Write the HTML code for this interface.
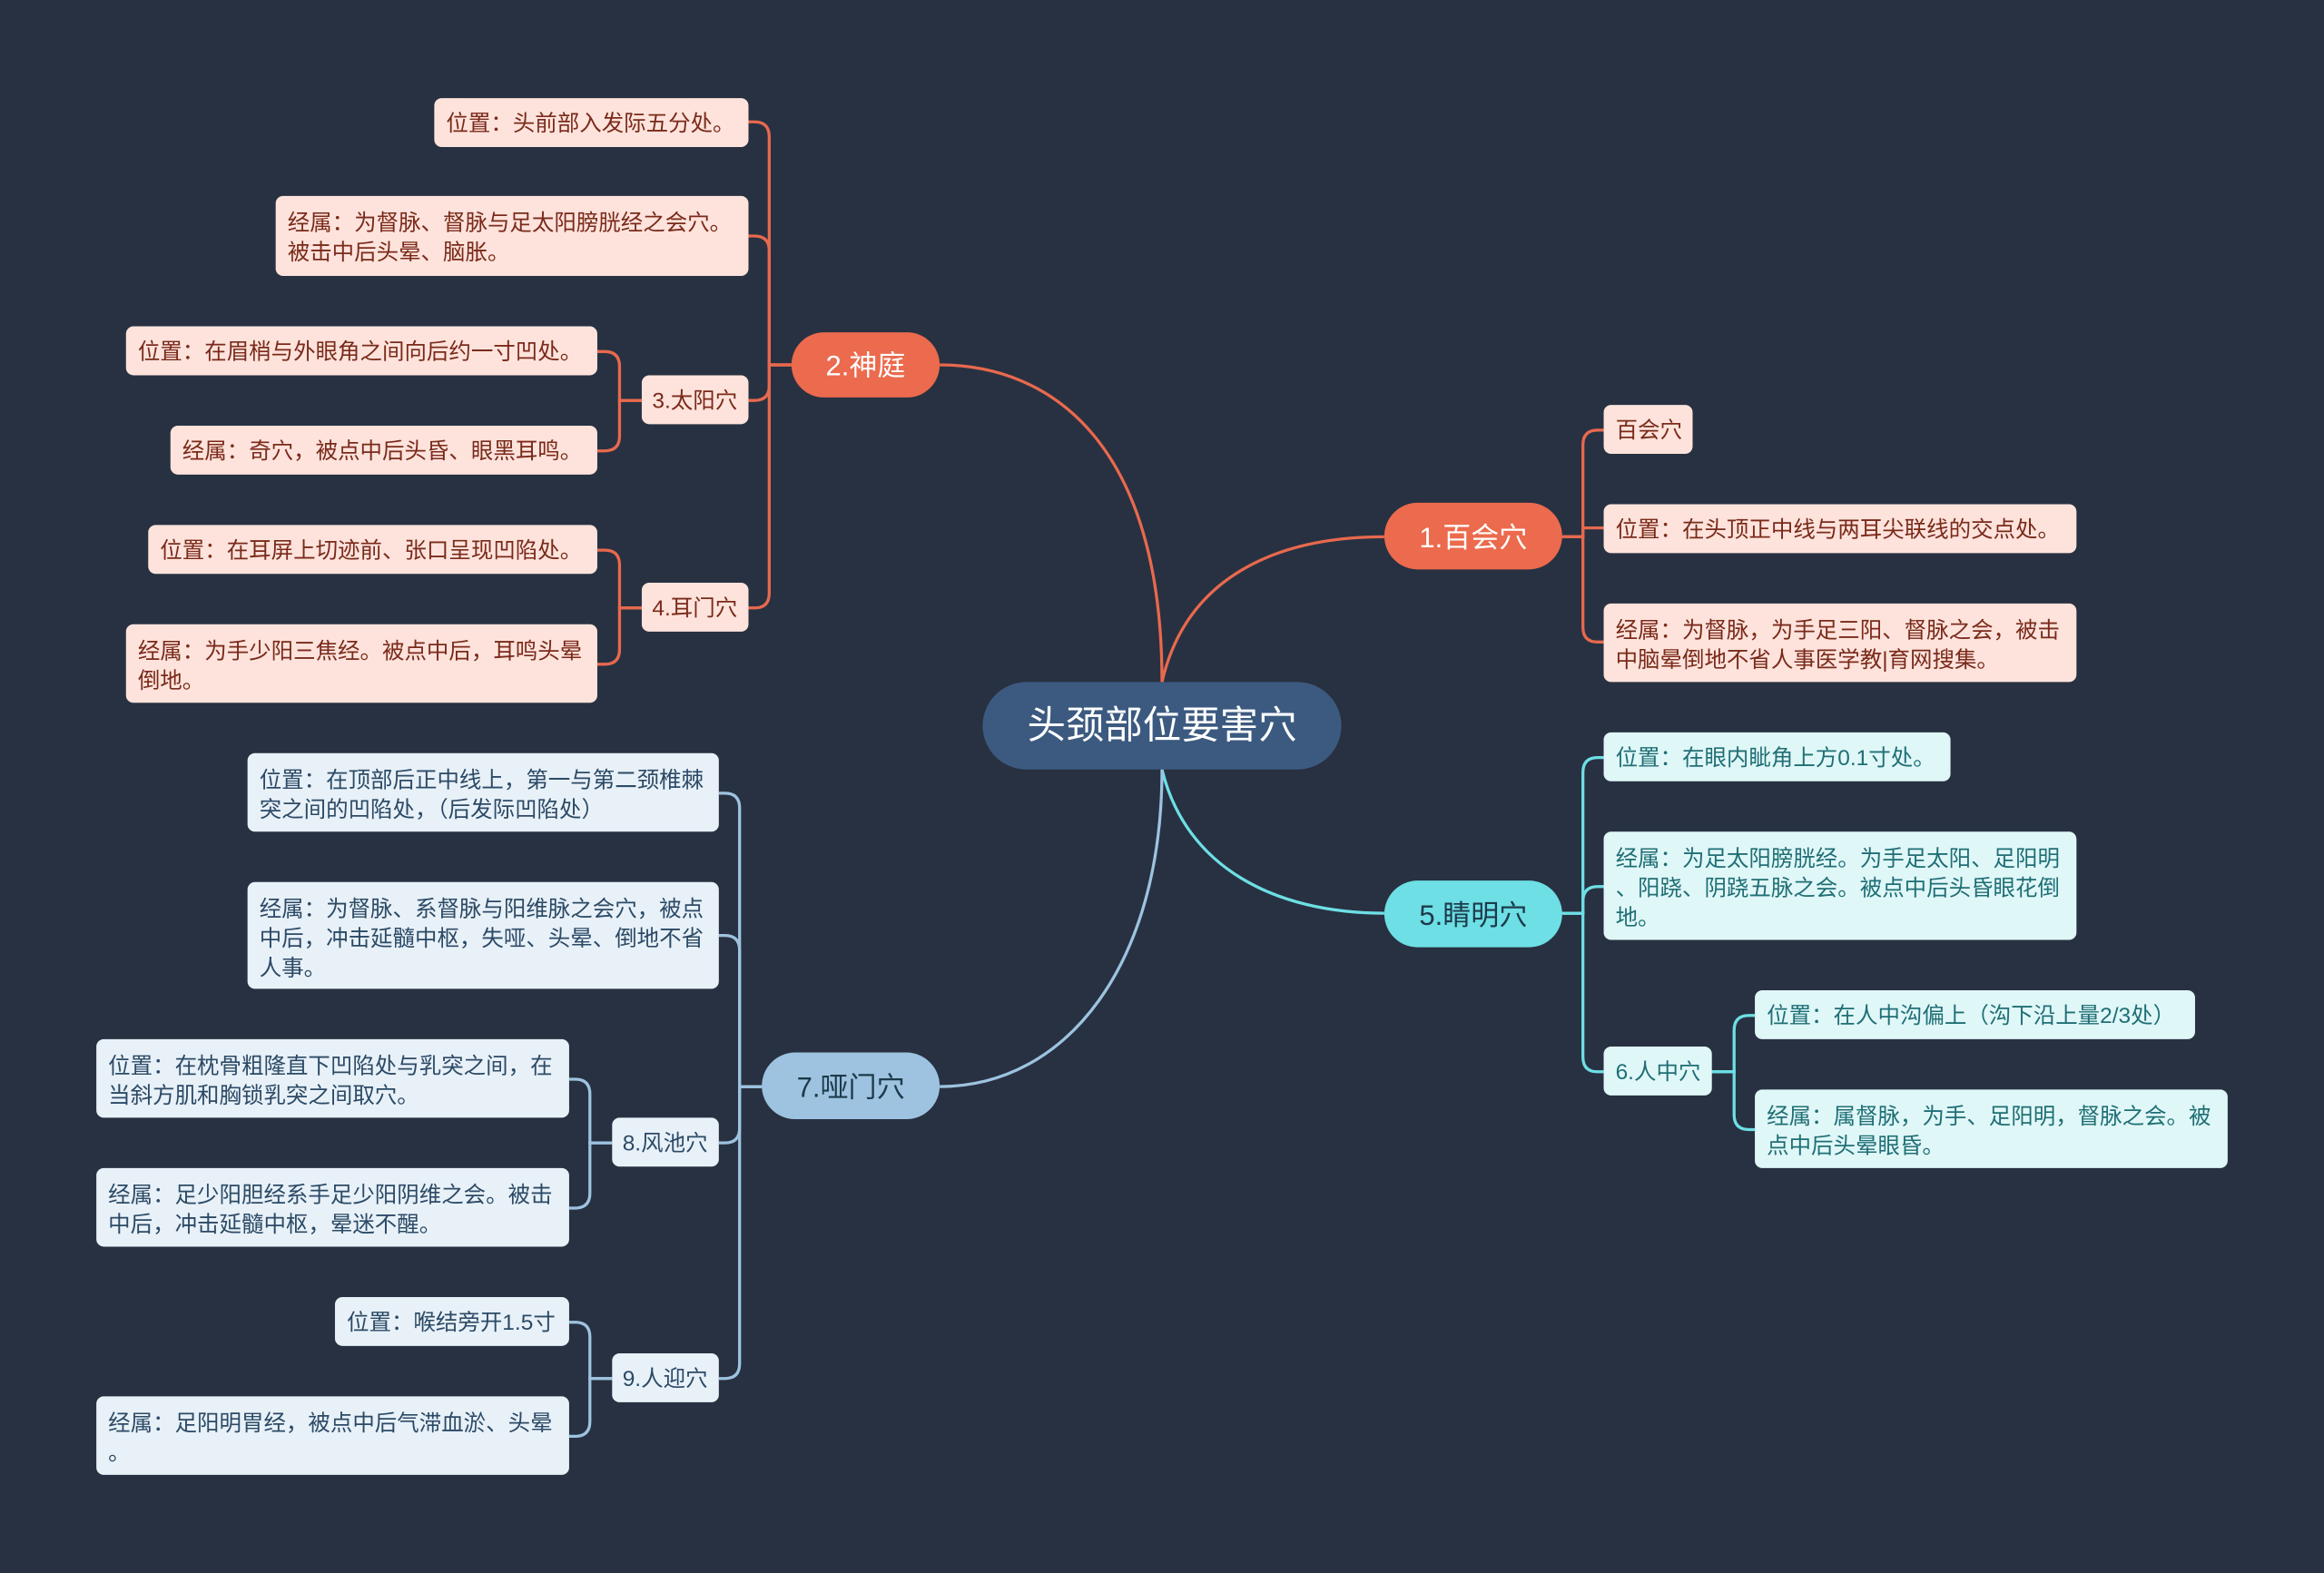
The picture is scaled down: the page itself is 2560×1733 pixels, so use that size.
<!DOCTYPE html>
<html><head><meta charset="utf-8">
<style>
html,body{margin:0;padding:0;background:#283141;}
svg{display:block;}
text{font-family:"Liberation Sans","Noto Sans CJK SC",sans-serif;}
.lr{fill:#fde3dc;} .tr{fill:#7a2a1a;font-size:15px;}
.lc{fill:#e0f7f8;} .tc{fill:#1f6f75;font-size:15px;}
.lb{fill:#e8f1f8;} .tb{fill:#2c4a66;font-size:15px;}
.cr{stroke:#e8694e;fill:none;stroke-width:2;}
.cc{stroke:#6ddfe5;fill:none;stroke-width:2;}
.cb{stroke:#9dc3e0;fill:none;stroke-width:2;}
</style></head><body>
<svg width="2560" height="1733" viewBox="0 0 1568 1061" xmlns="http://www.w3.org/2000/svg">
<rect width="1568" height="1061" fill="#283141"/>
<!-- main connectors -->
<path class="cr" d="M784,460 C784,300 710,246 634,246"/>
<path class="cr" d="M784,460 C800,390 860,362 934,362"/>
<path class="cc" d="M784,519 C800,585 860,616 934,616"/>
<path class="cb" d="M784,519 C784,650 720,733 634,733"/>
<!-- right red -->
<path class="cr" d="M1054,362 L1068,362 L1068,300 Q1068,290 1078,290 L1082,290"/>
<path class="cr" d="M1054,362 L1068,362 L1068,356 L1082,356"/>
<path class="cr" d="M1054,362 L1068,362 L1068,423 Q1068,433 1078,433 L1082,433"/>
<!-- left red -->
<path class="cr" d="M534,246 L519,246 L519,92 Q519,82 509,82 L505,82"/>
<path class="cr" d="M534,246 L519,246 L519,169 Q519,159 509,159 L505,159"/>
<path class="cr" d="M534,246 L519,246 L519,260 Q519,270 509,270 L505,270"/>
<path class="cr" d="M534,246 L519,246 L519,400 Q519,410 509,410 L505,410"/>
<path class="cr" d="M433,270 L418,270 L418,247 Q418,237 408,237 L403,237"/>
<path class="cr" d="M433,270 L418,270 L418,294 Q418,304 408,304 L403,304"/>
<path class="cr" d="M433,410 L418,410 L418,381 Q418,371 408,371 L403,371"/>
<path class="cr" d="M433,410 L418,410 L418,438 Q418,448 408,448 L403,448"/>
<!-- cyan -->
<path class="cc" d="M1054,616 L1068,616 L1068,521 Q1068,511 1078,511 L1082,511"/>
<path class="cc" d="M1054,616 L1068,616 L1068,608 Q1068,598 1078,598 L1082,598"/>
<path class="cc" d="M1054,616 L1068,616 L1068,713 Q1068,723 1078,723 L1082,723"/>
<path class="cc" d="M1155,723 L1170,723 L1170,695 Q1170,685 1180,685 L1184,685"/>
<path class="cc" d="M1155,723 L1170,723 L1170,752 Q1170,762 1180,762 L1184,762"/>
<!-- blue -->
<path class="cb" d="M514,733 L499,733 L499,545 Q499,535 489,535 L485,535"/>
<path class="cb" d="M514,733 L499,733 L499,641 Q499,631 489,631 L485,631"/>
<path class="cb" d="M514,733 L499,733 L499,761 Q499,771 489,771 L485,771"/>
<path class="cb" d="M514,733 L499,733 L499,920 Q499,930 489,930 L485,930"/>
<path class="cb" d="M413,771 L398,771 L398,738 Q398,728 388,728 L384,728"/>
<path class="cb" d="M413,771 L398,771 L398,805 Q398,815 388,815 L384,815"/>
<path class="cb" d="M413,930 L398,930 L398,902 Q398,892 388,892 L384,892"/>
<path class="cb" d="M413,930 L398,930 L398,959 Q398,969 388,969 L384,969"/>

<!-- main nodes -->
<rect x="663" y="460" width="242" height="59" rx="29.5" fill="#3c5a80"/>
<text x="784" y="498" text-anchor="middle" fill="#fff" font-size="26">头颈部位要害穴</text>
<rect x="534" y="224" width="100" height="44" rx="22" fill="#ec6a4d"/>
<text x="584" y="253" text-anchor="middle" fill="#fff" font-size="19">2.神庭</text>
<rect x="934" y="339" width="120" height="45" rx="22.5" fill="#ec6a4d"/>
<text x="994" y="369" text-anchor="middle" fill="#fff" font-size="19">1.百会穴</text>
<rect x="934" y="594" width="120" height="45" rx="22.5" fill="#6ddfe5"/>
<text x="994" y="624" text-anchor="middle" fill="#1d3a4a" font-size="19">5.睛明穴</text>
<rect x="514" y="710" width="120" height="45" rx="22.5" fill="#9dc3e0"/>
<text x="574" y="740" text-anchor="middle" fill="#1d3a4a" font-size="19">7.哑门穴</text>

<!-- red leaves left -->
<rect class="lr" x="293" y="66" width="212" height="33" rx="5"/>
<text class="tr" x="301" y="88">位置：头前部入发际五分处。</text>
<rect class="lr" x="186" y="132" width="319" height="54" rx="5"/>
<text class="tr" x="194" y="155">经属：为督脉、督脉与足太阳膀胱经之会穴。</text>
<text class="tr" x="194" y="175">被击中后头晕、脑胀。</text>
<rect class="lr" x="433" y="253" width="72" height="33" rx="5"/>
<text class="tr" x="440" y="275">3.太阳穴</text>
<rect class="lr" x="85" y="220" width="318" height="33" rx="5"/>
<text class="tr" x="93" y="242">位置：在眉梢与外眼角之间向后约一寸凹处。</text>
<rect class="lr" x="115" y="287" width="288" height="33" rx="5"/>
<text class="tr" x="123" y="309">经属：奇穴，被点中后头昏、眼黑耳鸣。</text>
<rect class="lr" x="433" y="393" width="72" height="33" rx="5"/>
<text class="tr" x="440" y="415">4.耳门穴</text>
<rect class="lr" x="100" y="354" width="303" height="33" rx="5"/>
<text class="tr" x="108" y="376">位置：在耳屏上切迹前、张口呈现凹陷处。</text>
<rect class="lr" x="85" y="421" width="318" height="53" rx="5"/>
<text class="tr" x="93" y="444">经属：为手少阳三焦经。被点中后，耳鸣头晕</text>
<text class="tr" x="93" y="464">倒地。</text>

<!-- red leaves right -->
<rect class="lr" x="1082" y="273" width="60" height="33" rx="5"/>
<text class="tr" x="1090" y="295">百会穴</text>
<rect class="lr" x="1082" y="340" width="319" height="33" rx="5"/>
<text class="tr" x="1090" y="362">位置：在头顶正中线与两耳尖联线的交点处。</text>
<rect class="lr" x="1082" y="407" width="319" height="53" rx="5"/>
<text class="tr" x="1090" y="430">经属：为督脉，为手足三阳、督脉之会，被击</text>
<text class="tr" x="1090" y="450">中脑晕倒地不省人事医学教|育网搜集。</text>

<!-- cyan leaves -->
<rect class="lc" x="1082" y="494" width="234" height="33" rx="5"/>
<text class="tc" x="1090" y="516">位置：在眼内眦角上方0.1寸处。</text>
<rect class="lc" x="1082" y="561" width="319" height="73" rx="5"/>
<text class="tc" x="1090" y="584">经属：为足太阳膀胱经。为手足太阳、足阳明</text>
<text class="tc" x="1090" y="604">、阳跷、阴跷五脉之会。被点中后头昏眼花倒</text>
<text class="tc" x="1090" y="624">地。</text>
<rect class="lc" x="1082" y="706" width="73" height="33" rx="5"/>
<text class="tc" x="1090" y="728">6.人中穴</text>
<rect class="lc" x="1184" y="668" width="297" height="33" rx="5"/>
<text class="tc" x="1192" y="690">位置：在人中沟偏上（沟下沿上量2/3处）</text>
<rect class="lc" x="1184" y="735" width="319" height="53" rx="5"/>
<text class="tc" x="1192" y="758">经属：属督脉，为手、足阳明，督脉之会。被</text>
<text class="tc" x="1192" y="778">点中后头晕眼昏。</text>

<!-- blue leaves -->
<rect class="lb" x="167" y="508" width="318" height="53" rx="5"/>
<text class="tb" x="175" y="531">位置：在顶部后正中线上，第一与第二颈椎棘</text>
<text class="tb" x="175" y="551">突之间的凹陷处，（后发际凹陷处）</text>
<rect class="lb" x="167" y="595" width="318" height="72" rx="5"/>
<text class="tb" x="175" y="618">经属：为督脉、系督脉与阳维脉之会穴，被点</text>
<text class="tb" x="175" y="638">中后，冲击延髓中枢，失哑、头晕、倒地不省</text>
<text class="tb" x="175" y="658">人事。</text>
<rect class="lb" x="413" y="754" width="72" height="33" rx="5"/>
<text class="tb" x="420" y="776">8.风池穴</text>
<rect class="lb" x="65" y="701" width="319" height="53" rx="5"/>
<text class="tb" x="73" y="724">位置：在枕骨粗隆直下凹陷处与乳突之间，在</text>
<text class="tb" x="73" y="744">当斜方肌和胸锁乳突之间取穴。</text>
<rect class="lb" x="65" y="788" width="319" height="53" rx="5"/>
<text class="tb" x="73" y="811">经属：足少阳胆经系手足少阳阴维之会。被击</text>
<text class="tb" x="73" y="831">中后，冲击延髓中枢，晕迷不醒。</text>
<rect class="lb" x="413" y="913" width="72" height="33" rx="5"/>
<text class="tb" x="420" y="935">9.人迎穴</text>
<rect class="lb" x="226" y="875" width="158" height="33" rx="5"/>
<text class="tb" x="234" y="897">位置：喉结旁开1.5寸</text>
<rect class="lb" x="65" y="942" width="319" height="53" rx="5"/>
<text class="tb" x="73" y="965">经属：足阳明胃经，被点中后气滞血淤、头晕</text>
<text class="tb" x="73" y="985">。</text>
</svg>
</body></html>
